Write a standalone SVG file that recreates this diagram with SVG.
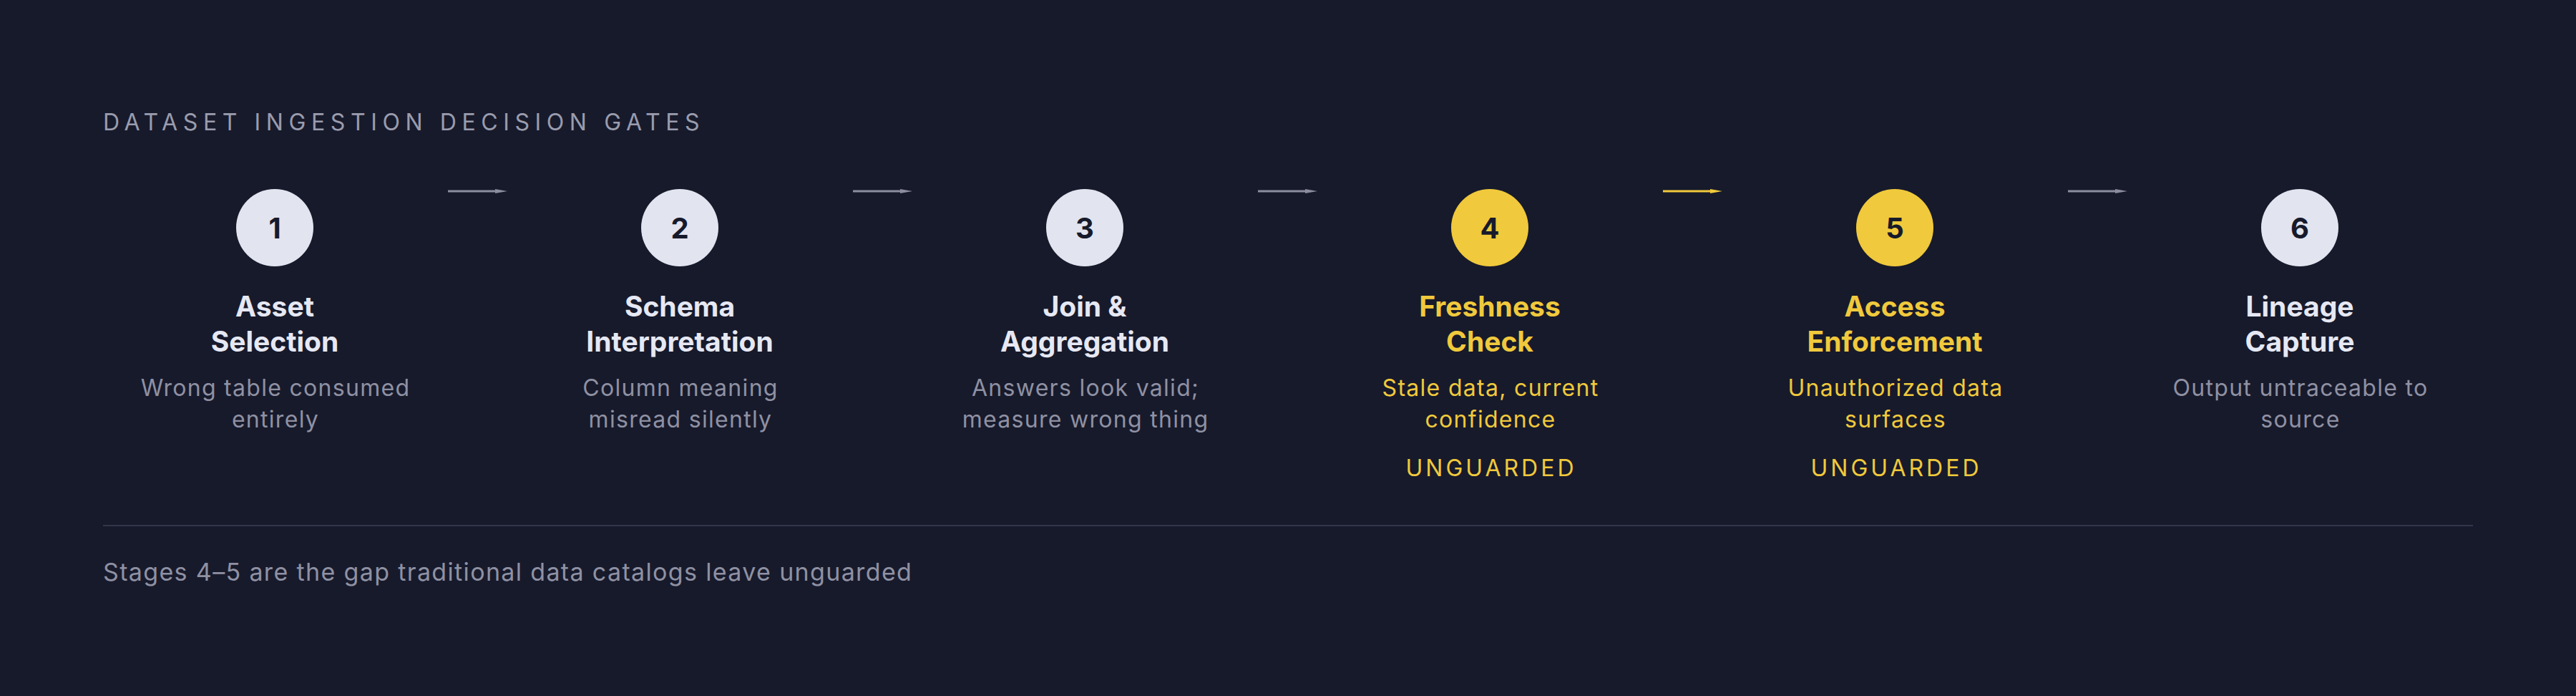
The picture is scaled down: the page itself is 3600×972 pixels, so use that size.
<svg xmlns="http://www.w3.org/2000/svg" width="3600" height="972" viewBox="0 0 3600 972">
<style>
text{font-family:Inter,"Noto Sans",sans-serif}
.hdr{font-size:32px;fill:#9a9cad;letter-spacing:7.6px}
.num{font-size:40px;font-weight:700;fill:#171a2b;text-anchor:middle}
.ttl{font-size:39px;font-weight:700;fill:#e6e8f3;text-anchor:middle}
.dsc{font-size:32px;fill:#8f91a3;text-anchor:middle;letter-spacing:1.3px}
.hot .ttl,.hot .dsc{fill:#f0c93c}
.tag{font-size:32px;fill:#f0c93c;text-anchor:middle;letter-spacing:4px}
.ftr{font-size:34px;fill:#8f91a3;letter-spacing:1.35px}
.c{fill:#e2e4f0}
.hot .c{fill:#f0c93c}
.ln{stroke:#8c8ea0;stroke-width:3}
.lnh{fill:#8c8ea0}
.y .ln{stroke:#f0c93c}
.y .lnh{fill:#f0c93c}
</style>
<rect width="3600" height="972" fill="#171a2b"/>
<text class="hdr" x="144" y="182">DATASET INGESTION DECISION GATES</text>
<g id="connectors">
<g><line class="ln" x1="626" y1="267" x2="694" y2="267"/><polygon class="lnh" points="692,264 709,267 692,270"/></g>
<g><line class="ln" x1="1192" y1="267" x2="1260" y2="267"/><polygon class="lnh" points="1258,264 1275,267 1258,270"/></g>
<g><line class="ln" x1="1758" y1="267" x2="1826" y2="267"/><polygon class="lnh" points="1824,264 1841,267 1824,270"/></g>
<g class="y"><line class="ln" x1="2324" y1="267" x2="2392" y2="267"/><polygon class="lnh" points="2390,264 2407,267 2390,270"/></g>
<g><line class="ln" x1="2890" y1="267" x2="2958" y2="267"/><polygon class="lnh" points="2956,264 2973,267 2956,270"/></g>
</g>
<g id="node1">
<circle class="c" cx="384" cy="318" r="54"/><text class="num" x="384" y="333">1</text>
<text class="ttl" x="384" y="442">Asset</text><text class="ttl" x="384" y="491">Selection</text>
<text class="dsc" x="385" y="553">Wrong table consumed</text><text class="dsc" x="385" y="597">entirely</text>
</g>
<g id="node2">
<circle class="c" cx="950" cy="318" r="54"/><text class="num" x="950" y="333">2</text>
<text class="ttl" x="950" y="442">Schema</text><text class="ttl" x="950" y="491">Interpretation</text>
<text class="dsc" x="951" y="553">Column meaning</text><text class="dsc" x="951" y="597">misread silently</text>
</g>
<g id="node3">
<circle class="c" cx="1516" cy="318" r="54"/><text class="num" x="1516" y="333">3</text>
<text class="ttl" x="1516" y="442">Join &amp;</text><text class="ttl" x="1516" y="491">Aggregation</text>
<text class="dsc" x="1517" y="553">Answers look valid;</text><text class="dsc" x="1517" y="597">measure wrong thing</text>
</g>
<g id="node4" class="hot">
<circle class="c" cx="2082" cy="318" r="54"/><text class="num" x="2082" y="333">4</text>
<text class="ttl" x="2082" y="442">Freshness</text><text class="ttl" x="2082" y="491">Check</text>
<text class="dsc" x="2083" y="553">Stale data, current</text><text class="dsc" x="2083" y="597">confidence</text>
<text class="tag" x="2084" y="665">UNGUARDED</text>
</g>
<g id="node5" class="hot">
<circle class="c" cx="2648" cy="318" r="54"/><text class="num" x="2648" y="333">5</text>
<text class="ttl" x="2648" y="442">Access</text><text class="ttl" x="2648" y="491">Enforcement</text>
<text class="dsc" x="2649" y="553">Unauthorized data</text><text class="dsc" x="2649" y="597">surfaces</text>
<text class="tag" x="2650" y="665">UNGUARDED</text>
</g>
<g id="node6">
<circle class="c" cx="3214" cy="318" r="54"/><text class="num" x="3214" y="333">6</text>
<text class="ttl" x="3214" y="442">Lineage</text><text class="ttl" x="3214" y="491">Capture</text>
<text class="dsc" x="3215" y="553">Output untraceable to</text><text class="dsc" x="3215" y="597">source</text>
</g>
<line x1="144" y1="734" x2="3456" y2="734" stroke="#33364a" stroke-width="2"/>
<text class="ftr" x="144" y="811">Stages 4–5 are the gap traditional data catalogs leave unguarded</text>
</svg>
